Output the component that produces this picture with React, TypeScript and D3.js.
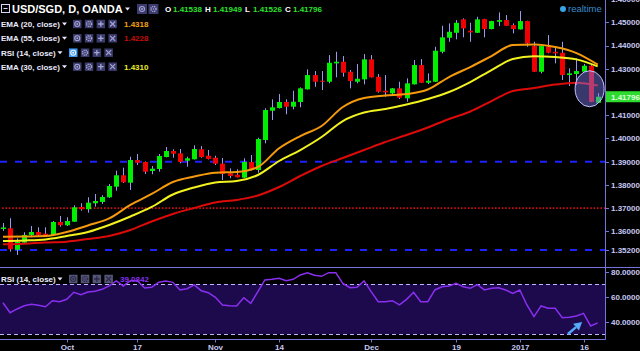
import React, { useEffect, useRef } from 'react';
import * as d3 from 'd3';

// daily bars on screen (OANDA had no bar on these weekdays)
const firstDay = '2016-09-20';
const lastDay = '2017-01-18';
const closedDays = ['2016-12-26', '2017-01-02'];

const opens = [1.36105, 1.36135, 1.35211, 1.35516, 1.35847, 1.35976, 1.35903, 1.35847, 1.36406, 1.36265,
  1.36419, 1.37052, 1.36953, 1.37211, 1.37267, 1.37469, 1.37925, 1.38415, 1.38097, 1.39073,
  1.38987, 1.38600, 1.38686, 1.39202, 1.39460, 1.39361, 1.39043, 1.39103, 1.39533, 1.39258,
  1.39172, 1.38914, 1.38501, 1.38441, 1.38312, 1.38987, 1.38643, 1.39933, 1.41194, 1.41310,
  1.41568, 1.41366, 1.41568, 1.42114, 1.42729, 1.42484, 1.42441, 1.43232, 1.43301, 1.42871,
  1.42441, 1.42544, 1.43404, 1.42656, 1.42054, 1.41942, 1.42157, 1.41727, 1.42329, 1.43159,
  1.42398, 1.42441, 1.43731, 1.44333, 1.44548, 1.45125, 1.44634, 1.44548, 1.45138, 1.44708,
  1.45022, 1.45095, 1.44880, 1.44695, 1.45052, 1.43976, 1.42871, 1.43946, 1.43731, 1.43688,
  1.42729, 1.42772, 1.42871, 1.43129, 1.41538];
const highs = [1.36363, 1.36566, 1.35697, 1.35963, 1.36234, 1.36178, 1.36178, 1.36449, 1.36665, 1.36609,
  1.37125, 1.37211, 1.37469, 1.37611, 1.37555, 1.38041, 1.38613, 1.38742, 1.39215, 1.39331,
  1.39009, 1.38815, 1.39331, 1.39632, 1.39533, 1.39546, 1.39215, 1.39705, 1.39675, 1.39503,
  1.39258, 1.39159, 1.38716, 1.38673, 1.39146, 1.39288, 1.40032, 1.41297, 1.41684, 1.41912,
  1.41684, 1.42054, 1.42200, 1.42974, 1.42901, 1.42901, 1.43589, 1.43731, 1.43546, 1.42944,
  1.43202, 1.43632, 1.43589, 1.42772, 1.42729, 1.42170, 1.42441, 1.42587, 1.43374, 1.43417,
  1.42802, 1.43946, 1.44850, 1.44953, 1.45095, 1.45168, 1.44979, 1.45237, 1.45151, 1.45065,
  1.45426, 1.45310, 1.44953, 1.45482, 1.45065, 1.44161, 1.43989, 1.44450, 1.43946, 1.44161,
  1.43017, 1.43447, 1.43202, 1.43202, 1.41949];
const lows = [1.36019, 1.35129, 1.34987, 1.35460, 1.35748, 1.35774, 1.35774, 1.35804, 1.36204, 1.36234,
  1.36406, 1.36892, 1.36806, 1.37065, 1.37181, 1.37439, 1.37753, 1.38084, 1.37783, 1.38858,
  1.38471, 1.38458, 1.38570, 1.39181, 1.39172, 1.38931, 1.38785, 1.39095, 1.39172, 1.39095,
  1.38858, 1.38213, 1.38286, 1.38320, 1.38299, 1.38622, 1.38527, 1.39791, 1.40794, 1.41288,
  1.41039, 1.41254, 1.41340, 1.42105, 1.42226, 1.42084, 1.42372, 1.42630, 1.42656, 1.42157,
  1.42372, 1.42329, 1.42622, 1.41968, 1.41796, 1.41869, 1.41697, 1.41581, 1.42320, 1.42385,
  1.42342, 1.42428, 1.43662, 1.44161, 1.44265, 1.44351, 1.44161, 1.44536, 1.44351, 1.44695,
  1.44837, 1.44837, 1.44523, 1.44686, 1.43946, 1.42858, 1.42802, 1.43662, 1.43232, 1.42514,
  1.42256, 1.42299, 1.42858, 1.41568, 1.41526];
const closes = [1.36170, 1.35232, 1.35546, 1.35847, 1.35976, 1.35847, 1.35834, 1.36406, 1.36265, 1.36449,
  1.37039, 1.36953, 1.37237, 1.37310, 1.37482, 1.37955, 1.38415, 1.38114, 1.39073, 1.38957,
  1.38570, 1.38699, 1.39245, 1.39460, 1.39344, 1.38987, 1.39146, 1.39546, 1.39202, 1.39116,
  1.38914, 1.38471, 1.38385, 1.38329, 1.38987, 1.38643, 1.39976, 1.41224, 1.41340, 1.41568,
  1.41366, 1.41581, 1.42157, 1.42729, 1.42441, 1.42441, 1.43258, 1.43301, 1.42828, 1.42471,
  1.42570, 1.43404, 1.42630, 1.42011, 1.41985, 1.42157, 1.41753, 1.42372, 1.43159, 1.42398,
  1.42484, 1.43774, 1.44351, 1.44591, 1.44979, 1.44738, 1.44566, 1.45125, 1.44708, 1.45052,
  1.45095, 1.44850, 1.44708, 1.45052, 1.44093, 1.42871, 1.43976, 1.43688, 1.43662, 1.42729,
  1.42802, 1.42901, 1.43129, 1.41581, 1.41796];

// moving averages, read every 3rd bar (bar 0, 3, 6 ... 84)
const ema20 = [1.35774, 1.35783, 1.35804, 1.35976, 1.36256, 1.36557, 1.37138, 1.37611, 1.38127, 1.38363,
  1.38527, 1.38557, 1.38772, 1.39576, 1.40105, 1.40535, 1.41353, 1.41740, 1.41847, 1.41912,
  1.42105, 1.42643, 1.43073, 1.43546, 1.44019, 1.44041, 1.43933, 1.43675, 1.4318];
const ema30 = [1.35589, 1.35611, 1.35654, 1.35804, 1.35976, 1.36277, 1.36643, 1.37052, 1.37589, 1.37890,
  1.38105, 1.38170, 1.38428, 1.39030, 1.39503, 1.40062, 1.40751, 1.41116, 1.41267, 1.41460,
  1.41697, 1.41998, 1.42428, 1.42944, 1.43417, 1.43533, 1.43503, 1.43404, 1.4310];
const ema55 = [1.35447, 1.35473, 1.35525, 1.35559, 1.35675, 1.35804, 1.36062, 1.36428, 1.36751, 1.37009,
  1.37245, 1.37353, 1.37546, 1.37912, 1.38385, 1.38815, 1.39159, 1.39503, 1.39847, 1.40148,
  1.40471, 1.40837, 1.41159, 1.41611, 1.42041, 1.42170, 1.42320, 1.42398, 1.4228];

const rsi14 = [55.2, 47.2, 50.2, 52.8, 53.9, 53.1, 52.0, 56.8, 56.0, 57.9,
  63.5, 61.6, 63.8, 64.3, 65.9, 68.6, 72.6, 68.6, 72.8, 72.8,
  67.0, 67.5, 71.5, 72.6, 71.5, 65.4, 66.4, 69.4, 64.8, 63.2,
  59.5, 53.4, 52.8, 52.6, 59.2, 54.7, 64.0, 73.4, 73.9, 74.7,
  72.8, 73.9, 77.4, 79.2, 77.1, 76.3, 79.2, 79.2, 70.7, 67.2,
  67.5, 72.6, 64.0, 56.0, 56.0, 56.8, 53.4, 57.9, 63.5, 56.0,
  56.0, 65.4, 68.0, 68.6, 70.7, 68.0, 66.7, 69.6, 65.4, 66.7,
  67.2, 65.4, 62.7, 65.4, 53.4, 44.0, 52.6, 50.7, 50.7, 43.2,
  43.5, 44.6, 46.7, 36.6, 39.0842];

const dateTicks = ['2016-10-03', '2016-10-17', '2016-11-01', '2016-11-14', '2016-12-01', '2016-12-19', '2017-01-03', '2017-01-16'];
const dateTickLabels = ['Oct', '17', 'Nov', '14', 'Dec', '19', '2017', '16'];
const priceTicks = [1.46, 1.45, 1.44, 1.43, 1.42, 1.41, 1.40, 1.39, 1.38, 1.37, 1.36];
const rsiTicks = [80, 60, 40];

// drawn levels
const supportLevels = [1.39, 1.352];
const dottedLevel = 1.37;
const rsiBand = [30, 70];

const FONT = '"Liberation Sans", Arial, sans-serif';
const UP = '#00ef00';
const DOWN = '#f00000';
const WICK = '#9a9aee';
const FRAME = '#7474dc';
const AXIS_TEXT = '#c8c8f4';

const App = () => {
  const ref = useRef<SVGSVGElement>(null);

  useEffect(() => {
    const svg = d3.select(ref.current);
    svg.selectAll('*').remove();

    const fmtDay = d3.utcFormat('%Y-%m-%d');
    const days = d3.utcDays(new Date(firstDay), d3.utcDay.offset(new Date(lastDay), 1))
      .filter(d => d.getUTCDay() % 6 !== 0)
      .map(fmtDay)
      .filter(s => !closedDays.includes(s));
    const bars = d3.range(days.length);
    const emaBars = d3.range(0, days.length, 3);

    const plotRight = 605.5;
    const mainBottom = 267.5;
    const rsiBottom = 339.5;

    const x = d3.scaleBand<string>().domain(days).range([-0.56, 601.24]);
    const cx = (i: number) => (x(days[i]) as number) + x.bandwidth() / 2;
    const y = d3.scaleLinear().domain([1.352, 1.39]).range([250, 161.7]);
    const yr = d3.scaleLinear().domain([30, 80]).range([334.2, 271.7]);

    svg.append('rect').attr('width', 640).attr('height', 351).attr('fill', '#000');

    const defs = svg.append('defs');
    defs.append('clipPath').attr('id', 'mainClip')
      .append('rect').attr('x', 0).attr('y', 0).attr('width', plotRight).attr('height', mainBottom);
    defs.append('clipPath').attr('id', 'rsiClip')
      .append('rect').attr('x', 0).attr('y', mainBottom + 0.5).attr('width', plotRight).attr('height', rsiBottom - mainBottom - 1);

    // ---------- main pane ----------
    const main = svg.append('g').attr('clip-path', 'url(#mainClip)');

    main.selectAll('line.level').data(supportLevels).join('line')
      .attr('x1', 0).attr('x2', plotRight)
      .attr('y1', d => y(d)).attr('y2', d => y(d))
      .attr('stroke', '#1d22ff').attr('stroke-width', 2).attr('stroke-dasharray', '7,8');
    main.append('line')
      .attr('x1', 2).attr('x2', plotRight)
      .attr('y1', y(dottedLevel)).attr('y2', y(dottedLevel))
      .attr('stroke', '#cc1010').attr('stroke-width', 1.6).attr('stroke-dasharray', '1.6,1.8');

    main.append('g').selectAll('line').data(bars).join('line')
      .attr('x1', i => Math.round(cx(i)) + 0.5).attr('x2', i => Math.round(cx(i)) + 0.5)
      .attr('y1', i => y(highs[i])).attr('y2', i => y(lows[i]))
      .attr('stroke', WICK).attr('stroke-width', 1);
    main.append('g').selectAll('rect').data(bars).join('rect')
      .attr('x', i => Math.round(cx(i)) - 2)
      .attr('y', i => y(Math.max(opens[i], closes[i])))
      .attr('width', 5)
      .attr('height', i => Math.max(1, Math.abs(y(opens[i]) - y(closes[i]))))
      .attr('fill', i => closes[i] >= opens[i] ? UP : DOWN);

    const emaLine = (vals: number[]) => d3.line<number>()
      .x((_, k) => cx(emaBars[k]))
      .y(v => y(v))
      .curve(d3.curveMonotoneX)(vals);
    [[ema55, '#dd0a0a'], [ema30, '#f2f21e'], [ema20, '#f59a0c']].forEach(([vals, col]) => {
      main.append('path').attr('d', emaLine(vals as number[]))
        .attr('fill', 'none').attr('stroke', col as string).attr('stroke-width', 2);
    });

    // highlight around the last bars
    main.append('ellipse')
      .attr('cx', cx(83) - 1).attr('cy', y(1.4214))
      .attr('rx', 14.5).attr('ry', 18)
      .attr('fill', 'rgba(125,125,240,0.45)')
      .attr('stroke', '#c4c4ff').attr('stroke-width', 1);

    // ---------- RSI pane ----------
    const rsiG = svg.append('g').attr('clip-path', 'url(#rsiClip)');
    rsiG.append('rect')
      .attr('x', 0).attr('width', plotRight)
      .attr('y', yr(rsiBand[1])).attr('height', yr(rsiBand[0]) - yr(rsiBand[1]))
      .attr('fill', '#1c0a4c');
    rsiG.selectAll('line.band').data(rsiBand).join('line')
      .attr('x1', 0).attr('x2', plotRight)
      .attr('y1', d => Math.round(yr(d)) + 0.5).attr('y2', d => Math.round(yr(d)) + 0.5)
      .attr('stroke', '#bdb6ff').attr('stroke-width', 1).attr('stroke-dasharray', '4,3');
    rsiG.append('path')
      .attr('d', d3.line<number>().x((_, i) => cx(i)).y(v => yr(v))(rsi14))
      .attr('fill', 'none').attr('stroke', '#8a2ff0').attr('stroke-width', 1.5);

    // arrow annotation
    const ax0 = 79.8 * x.step() + cx(0), ay0 = yr(30.2);
    const ax1 = 81.8 * x.step() + cx(0), ay1 = yr(39.8);
    const ang = Math.atan2(ay1 - ay0, ax1 - ax0);
    const hl = 8, hw = 4.5;
    const bx = ax1 - hl * Math.cos(ang), by = ay1 - hl * Math.sin(ang);
    rsiG.append('line').attr('x1', ax0).attr('y1', ay0).attr('x2', bx).attr('y2', by)
      .attr('stroke', '#56a8f8').attr('stroke-width', 2.5);
    rsiG.append('path')
      .attr('d', `M${ax1},${ay1} L${bx - hw * Math.sin(ang)},${by + hw * Math.cos(ang)} L${bx + hw * Math.sin(ang)},${by - hw * Math.cos(ang)} Z`)
      .attr('fill', '#56a8f8');

    // ---------- frame and axes ----------
    svg.append('line').attr('x1', plotRight).attr('x2', plotRight).attr('y1', 0).attr('y2', rsiBottom)
      .attr('stroke', FRAME);
    svg.append('line').attr('x1', 0).attr('x2', 640).attr('y1', mainBottom).attr('y2', mainBottom)
      .attr('stroke', FRAME);
    svg.append('line').attr('x1', 0).attr('x2', plotRight).attr('y1', rsiBottom).attr('y2', rsiBottom)
      .attr('stroke', FRAME);

    const lastClose = closes[closes.length - 1];
    const yLast = y(lastClose);
    const priceLabels = [...priceTicks, supportLevels[1]]
      .filter(p => Math.abs(y(p) - yLast) > 8)
      .filter(p => p === supportLevels[1] || Math.abs(y(p) - y(supportLevels[1])) > 8);
    const axR = svg.append('g').attr('font-family', FONT).attr('font-size', 8).attr('font-weight', 'bold');
    priceLabels.forEach(p => {
      axR.append('line').attr('x1', plotRight).attr('x2', plotRight + 3.5)
        .attr('y1', Math.round(y(p)) + 0.5).attr('y2', Math.round(y(p)) + 0.5).attr('stroke', FRAME);
      axR.append('text').attr('x', 611).attr('y', y(p)).attr('dy', '0.35em')
        .attr('fill', AXIS_TEXT).text(p.toFixed(5));
    });
    rsiTicks.forEach(v => {
      axR.append('line').attr('x1', plotRight).attr('x2', plotRight + 3.5)
        .attr('y1', Math.round(yr(v)) + 0.5).attr('y2', Math.round(yr(v)) + 0.5).attr('stroke', FRAME);
      axR.append('text').attr('x', 611).attr('y', yr(v)).attr('dy', '0.35em')
        .attr('fill', AXIS_TEXT).text(v.toFixed(4));
    });
    axR.append('rect').attr('x', plotRight + 0.5).attr('y', yLast - 5.5).attr('width', 34).attr('height', 11)
      .attr('fill', '#2ddc2d');
    axR.append('text').attr('x', 611).attr('y', yLast).attr('dy', '0.35em')
      .attr('fill', '#e4ffe4').text(lastClose.toFixed(5));

    const axB = svg.append('g').attr('font-family', FONT).attr('font-size', 8).attr('font-weight', 'bold');
    dateTicks.forEach((d, k) => {
      const tx = Math.round(cx(days.indexOf(d))) + 0.5;
      axB.append('line').attr('x1', tx).attr('x2', tx).attr('y1', rsiBottom).attr('y2', rsiBottom + 3)
        .attr('stroke', FRAME);
      axB.append('text').attr('x', tx).attr('y', 347).attr('dy', '0.35em')
        .attr('text-anchor', 'middle').attr('fill', AXIS_TEXT).text(dateTickLabels[k]);
    });

    // ---------- legends ----------
    const leg = svg.append('g').attr('font-family', FONT);

    const caret = (x0: number, yc: number) => leg.append('path')
      .attr('d', `M${x0},${yc - 1.5} L${x0 + 5},${yc - 1.5} L${x0 + 2.5},${yc + 1.5} Z`).attr('fill', '#e8e8ff');

    const button = (x0: number, yc: number, kind: string, bg = '#3a3a6c', fg = '#a4a4d4', s = 8.5) => {
      const b = leg.append('g').attr('transform', `translate(${x0 + s / 2},${yc})`);
      b.append('rect').attr('x', -s / 2).attr('y', -s / 2).attr('width', s).attr('height', s).attr('fill', bg);
      if (kind === 'eye') {
        b.append('circle').attr('r', 2.5).attr('fill', 'none').attr('stroke', fg).attr('stroke-width', 1.1);
        b.append('circle').attr('r', 1).attr('fill', fg);
      } else if (kind === 'gear') {
        b.append('circle').attr('r', 2.5).attr('fill', 'none').attr('stroke', fg).attr('stroke-width', 1.6)
          .attr('stroke-dasharray', '1.2,0.8');
        b.append('circle').attr('r', 0.8).attr('fill', fg);
      } else if (kind === 'plus') {
        b.append('path').attr('d', 'M-2.8,0 H2.8 M0,-2.8 V2.8').attr('stroke', fg).attr('stroke-width', 1.3);
      } else {
        b.append('path').attr('d', 'M-2.5,-2.5 L2.5,2.5 M2.5,-2.5 L-2.5,2.5').attr('stroke', fg).attr('stroke-width', 1.2);
      }
    };

    // title row
    leg.append('rect').attr('x', 1.5).attr('y', 4.5).attr('width', 8).attr('height', 8)
      .attr('fill', 'none').attr('stroke', '#d8d8f4');
    leg.append('line').attr('x1', 3.5).attr('x2', 7.5).attr('y1', 8.5).attr('y2', 8.5).attr('stroke', '#d8d8f4');
    leg.append('text').attr('x', 12).attr('y', 9).attr('dy', '0.36em')
      .attr('font-size', 11).attr('font-weight', 'bold').attr('fill', '#ffffff').text('USD/SGD, D, OANDA');
    caret(125, 9);
    button(137, 9, 'eye', '#3a3a6c', '#a4a4d4', 10);
    button(148.5, 9, 'gear', '#3a3a6c', '#a4a4d4', 10);
    const ohlc = [['O', opens], ['H', highs], ['L', lows], ['C', closes]] as [string, number[]][];
    ohlc.forEach(([k, arr], j) => {
      const x0 = 165 + j * 40;
      leg.append('text').attr('x', x0).attr('y', 9).attr('dy', '0.35em')
        .attr('font-size', 8).attr('font-weight', 'bold').attr('fill', '#ffffff').text(k);
      leg.append('text').attr('x', x0 + 8).attr('y', 9).attr('dy', '0.35em')
        .attr('font-size', 8).attr('font-weight', 'bold').attr('fill', '#2ee02e')
        .text(arr[arr.length - 1].toFixed(5));
    });

    const rows = [
      { label: 'EMA (20, close)', caretX: 62, btnX: 73, value: ema20[ema20.length - 1].toFixed(4), color: '#f5a010', yc: 24 },
      { label: 'EMA (55, close)', caretX: 62, btnX: 73, value: ema55[ema55.length - 1].toFixed(4), color: '#c80c0c', yc: 38.3 },
      { label: 'RSI (14, close)', caretX: 57.5, btnX: 69, value: '', color: '', yc: 52.7, active: true },
      { label: 'EMA (30, close)', caretX: 62, btnX: 73, value: ema30[ema30.length - 1].toFixed(4), color: '#eded2a', yc: 66.7 },
    ];
    rows.forEach(r => {
      leg.append('text').attr('x', 1).attr('y', r.yc).attr('dy', '0.35em')
        .attr('font-size', 8).attr('font-weight', 'bold').attr('fill', '#ececff').text(r.label);
      caret(r.caretX, r.yc);
      ['eye', 'gear', 'plus', 'cross'].forEach((kind, k) => {
        if (k === 0 && r.active) button(r.btnX + k * 11.8, r.yc, kind, '#3f9cf6', '#e8f4ff');
        else button(r.btnX + k * 11.8, r.yc, kind);
      });
      if (r.value) {
        leg.append('text').attr('x', 124).attr('y', r.yc).attr('dy', '0.35em')
          .attr('font-size', 8).attr('font-weight', 'bold').attr('fill', r.color).text(r.value);
      }
    });

    // RSI pane legend
    const ry = 279;
    leg.append('text').attr('x', 1).attr('y', ry).attr('dy', '0.35em')
      .attr('font-size', 8).attr('font-weight', 'bold').attr('fill', '#ececff').text('RSI (14, close)');
    caret(57.5, ry);
    ['eye', 'gear', 'plus', 'cross'].forEach((kind, k) => button(69 + k * 11.8, ry, kind, '#54547a', '#2a2a44'));
    leg.append('text').attr('x', 120).attr('y', ry).attr('dy', '0.35em')
      .attr('font-size', 8).attr('font-weight', 'bold').attr('fill', '#8a2ff0')
      .text(rsi14[rsi14.length - 1].toFixed(4));

    // realtime badge
    leg.append('circle').attr('cx', 563).attr('cy', 9).attr('r', 3).attr('fill', '#3aa4e8');
    leg.append('text').attr('x', 568).attr('y', 9).attr('dy', '0.35em')
      .attr('font-size', 9.5).attr('fill', '#3a8ccc').text('realtime');
  }, []);

  return (
    <svg ref={ref} width={640} height={351}
      style={{ position: 'fixed', left: 0, top: 0, display: 'block' }} />
  );
};

export default App;
